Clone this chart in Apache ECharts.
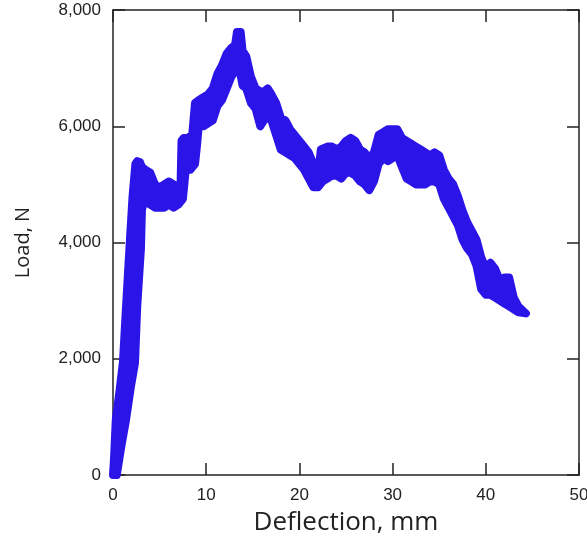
<!DOCTYPE html>
<html>
<head>
<meta charset="utf-8">
<script src="https://cdn.jsdelivr.net/npm/echarts@6/dist/echarts.min.js"></script>
<style>
html,body{margin:0;padding:0;background:#fff;}
#chart{width:587px;height:537px;}
</style>
</head>
<body>
<div id="chart"></div>
<script>
// Upper edge of the scattered load band: deflection (mm) and load (N)
var upperDeflection = [0,0.1,0.3,0.7,1.07,1.4,1.8,2.1,2.4,2.6,2.9,3.1,3.5,4.0,4.5,5.0,5.5,6.0,6.5,7.0,7.25,7.35,7.6,8.0,8.5,8.8,9.2,9.7,10.2,10.7,11.2,11.7,12.2,12.7,13.1,13.3,13.7,13.9,14.3,14.8,15.3,15.8,16.2,16.6,17.0,17.5,18.0,18.5,19.0,19.5,20.0,20.5,21.0,21.5,22.0,22.3,23.0,23.5,24.0,24.5,25.0,25.5,26.0,26.5,27.0,27.5,28.0,28.5,29.0,29.5,30.0,30.5,31.0,31.5,32.0,32.5,33.0,33.5,34.0,34.5,35.0,35.5,36.0,36.5,37.0,37.5,38.0,38.5,39.0,39.5,40.0,40.5,41.0,41.5,42.0,42.5,43.0,43.5,44.3];
var upperLoad = [0,250,950,1450,1950,2900,4000,4800,5350,5400,5380,5300,5250,5200,5000,4950,5000,5050,5000,4950,5000,5750,5800,5800,5850,6400,6450,6500,6550,6650,6900,7050,7250,7350,7400,7620,7620,7300,7200,6850,6650,6600,6600,6650,6550,6400,6150,6100,5950,5850,5750,5650,5550,5350,5150,5600,5650,5650,5600,5650,5750,5800,5750,5600,5550,5450,5550,5850,5900,5950,5950,5950,5800,5750,5700,5650,5600,5550,5500,5550,5500,5250,5100,5000,4800,4550,4350,4200,4050,3750,3550,3650,3550,3350,3400,3400,3050,2900,2780];
// Lower edge of the same band
var lowerDeflection = [0.4,0.9,1.4,1.9,2.36,2.6,3.0,3.1,3.3,3.5,4.0,4.5,5.0,5.5,6.0,6.5,7.0,7.5,7.8,8.3,8.8,9.0,9.2,9.7,10.2,10.7,11.2,11.7,12.2,12.7,13.1,13.5,13.9,14.3,14.8,15.3,15.8,16.2,16.6,17.0,17.5,18.0,18.5,19.0,19.5,20.0,20.5,21.0,21.5,22.0,22.5,23.0,23.5,24.0,24.5,25.0,25.5,26.0,26.5,27.0,27.5,28.0,28.5,29.0,29.5,30.0,30.5,31.0,31.5,32.0,32.5,33.0,33.5,34.0,34.5,35.0,35.5,36.0,36.5,37.0,37.5,38.0,38.5,39.0,39.5,40.0,40.5,41.0,41.5,42.0,42.5,43.0,43.5,44.3];
var lowerLoad = [0,500,950,1500,1930,2900,3900,4550,4700,4700,4650,4600,4600,4600,4650,4600,4650,4750,5250,5250,5350,5650,6000,6000,6050,6100,6350,6450,6650,6850,6950,7050,6700,6650,6400,6300,6000,6100,6150,6100,5850,5600,5550,5500,5450,5350,5250,5100,4950,4950,5050,5100,5150,5150,5100,5200,5200,5150,5050,5000,4900,5050,5350,5450,5400,5450,5500,5300,5100,5050,5000,5000,5000,5050,5050,5000,4750,4600,4450,4300,4050,3900,3800,3600,3200,3100,3100,3050,3000,2950,2900,2850,2800,2780];
var xTicks = [0,10,20,30,40,50];
var yTicks = [0,2000,4000,6000,8000];

var axisColor = '#222';
var tickFont = {color:'#222', fontSize:17, fontFamily:'Liberation Sans, Arial, sans-serif'};
function fmt(v){ return v.toLocaleString('en-US'); }

var chart = echarts.init(document.getElementById('chart'), null, {renderer:'canvas'});
chart.setOption({
  animation:false,
  backgroundColor:'#fff',
  grid:{left:113, right:8, top:10, bottom:62, containLabel:false, outerBoundsMode:'none'},
  xAxis:[{
    type:'value', min:xTicks[0], max:xTicks[xTicks.length-1], interval:10,
    name:'Deflection, mm', nameLocation:'middle', nameGap:35,
    nameTextStyle:{color:'#222', fontSize:26, fontFamily:'Open Sans'},
    axisLine:{show:true, onZero:false, lineStyle:{color:axisColor, width:1.5}},
    axisTick:{show:true, inside:true, length:12, lineStyle:{color:axisColor, width:1.5}},
    axisLabel:Object.assign({margin:12}, tickFont),
    splitLine:{show:false}
  },{
    type:'value', position:'top', min:xTicks[0], max:xTicks[xTicks.length-1], interval:10,
    axisLine:{show:true, onZero:false, lineStyle:{color:axisColor, width:1.5}},
    axisTick:{show:true, inside:true, length:12, lineStyle:{color:axisColor, width:1.5}},
    axisLabel:{show:false}, splitLine:{show:false}
  }],
  yAxis:[{
    type:'value', min:yTicks[0], max:yTicks[yTicks.length-1], interval:2000,
    name:'Load, N', nameLocation:'middle', nameGap:80,
    nameTextStyle:{color:'#222', fontSize:20, fontFamily:'Open Sans'},
    axisLine:{show:true, onZero:false, lineStyle:{color:axisColor, width:1.5}},
    axisTick:{show:true, inside:true, length:12, lineStyle:{color:axisColor, width:1.5}},
    axisLabel:Object.assign({margin:12, formatter:fmt}, tickFont),
    splitLine:{show:false}
  },{
    type:'value', position:'right', min:yTicks[0], max:yTicks[yTicks.length-1], interval:2000,
    axisLine:{show:true, onZero:false, lineStyle:{color:axisColor, width:1.5}},
    axisTick:{show:true, inside:true, length:12, lineStyle:{color:axisColor, width:1.5}},
    axisLabel:{show:false}, splitLine:{show:false}
  }],
  series:[{
    type:'custom', coordinateSystem:'cartesian2d', xAxisIndex:0, yAxisIndex:0,
    data:[[upperDeflection[0], upperLoad[0]]],
    clip:false,
    renderItem:function(params, api){
      var pts = [];
      for (var i = 0; i < upperDeflection.length; i++) pts.push(api.coord([upperDeflection[i], upperLoad[i]]));
      for (var j = lowerDeflection.length - 1; j >= 0; j--) pts.push(api.coord([lowerDeflection[j], lowerLoad[j]]));
      return {
        type:'polygon',
        shape:{points:pts},
        style:{fill:'#2b14e8', stroke:'#2b14e8', lineWidth:8, lineJoin:'round'}
      };
    },
    z:3
  }]
});
</script>
</body>
</html>
